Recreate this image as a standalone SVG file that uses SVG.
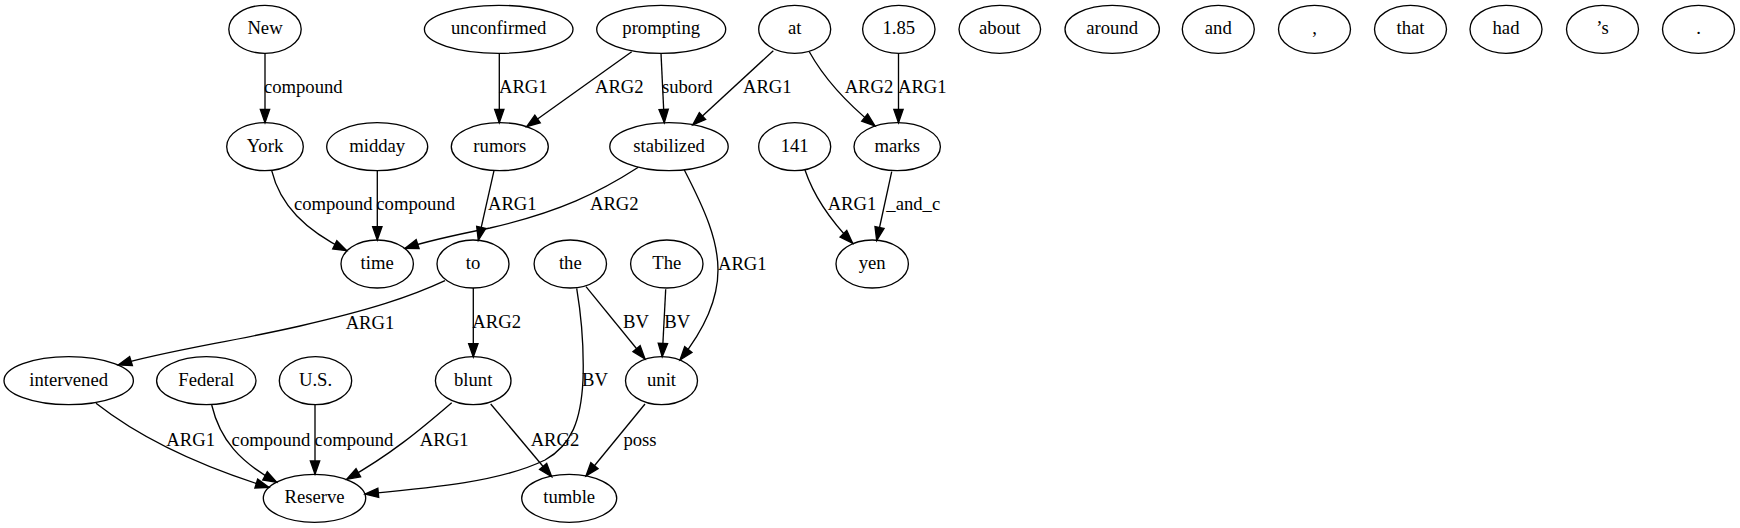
<svg xmlns="http://www.w3.org/2000/svg" width="1740" height="528" viewBox="0 0 1740 528">
<style>
.n ellipse{fill:none;stroke:#000;stroke-width:1.33}
text{font-family:"Liberation Serif","Times New Roman",serif;font-size:18.67px;fill:#000;text-anchor:middle}
.e path{fill:none;stroke:#000;stroke-width:1.33;marker-end:url(#ah)}
</style>
<defs>
<marker id="ah" markerUnits="userSpaceOnUse" markerWidth="16" markerHeight="12" refX="13.33" refY="0" orient="auto" overflow="visible">
<path d="M0,-4.67 L13.33,0 L0,4.67 Z" fill="#000" stroke="#000" stroke-width="1.33"/>
</marker>
</defs>
<rect width="1740" height="528" fill="#fff"/>
<g id="edges" class="e">
<path d="M265,53.3 L265,122.7"/>
<path d="M499.3,53.3 L499.3,122.7"/>
<path d="M631.7,51.7 L526.7,126.7"/>
<path d="M661,53.3 L664.3,122.7"/>
<path d="M773.3,50.7 L692.7,125"/>
<path d="M809.3,51.7 C825,80 848,104 875,126"/>
<path d="M898.5,53.3 L898.5,122.7"/>
<path d="M271.7,170.7 C280,205 305,230 346.7,250.7"/>
<path d="M377.3,170.7 L377.3,240"/>
<path d="M494,170.7 L478.3,240.3"/>
<path d="M638.3,167.3 C600,192 560,212 490,228 C460,234 430,240 405,248.3"/>
<path d="M684.3,170 C705,210 718,240 718,270 C718,305 700,335 680,360"/>
<path d="M805,170 C815,200 835,225 852.7,243.3"/>
<path d="M891.7,171.7 L876.7,240.5"/>
<path d="M445,280.7 C410,297 370,310 300,326 C230,342 160,352 118.3,365"/>
<path d="M473.3,288 L473.3,357"/>
<path d="M586,286.7 L645,359"/>
<path d="M665.7,289.3 L662.2,356.7"/>
<path d="M576.7,288.3 C582,320 584,350 583,380 C581,420 572,445 545,460 C500,482 430,488 365,494"/>
<path d="M96,403.3 C130,430 180,460 269,487.5"/>
<path d="M211.7,405 C220,440 240,462 276.7,482.3"/>
<path d="M315,405 L315,474.3"/>
<path d="M451.7,402.7 C420,430 390,455 346.7,479.3"/>
<path d="M490.7,404 L551.7,476.7"/>
<path d="M645,404 L586,476"/>
<text x="303.3" y="93.3">compound</text>
<text x="523.3" y="93.3">ARG1</text>
<text x="619.3" y="93.3">ARG2</text>
<text x="687.3" y="93.3">subord</text>
<text x="767.3" y="93.3">ARG1</text>
<text x="869" y="93.3">ARG2</text>
<text x="922.3" y="93.3">ARG1</text>
<text x="333.3" y="210">compound</text>
<text x="415.7" y="210">compound</text>
<text x="512.3" y="210">ARG1</text>
<text x="614.3" y="210">ARG2</text>
<text x="852" y="210">ARG1</text>
<text x="913.3" y="210">_and_c</text>
<text x="742.3" y="270">ARG1</text>
<text x="370" y="328.7">ARG1</text>
<text x="496.7" y="327.7">ARG2</text>
<text x="636" y="327.7">BV</text>
<text x="677.3" y="327.7">BV</text>
<text x="595" y="386">BV</text>
<text x="190.7" y="446">ARG1</text>
<text x="271" y="446">compound</text>
<text x="354" y="446">compound</text>
<text x="444.2" y="446">ARG1</text>
<text x="555" y="446">ARG2</text>
<text x="640" y="446">poss</text>
</g>
<g id="n-New" class="n"><ellipse cx="265" cy="29.3" rx="36.2" ry="24"/><text x="265" y="34.3">New</text></g>
<g id="n-unconfirmed" class="n"><ellipse cx="498.7" cy="29.3" rx="74.3" ry="24"/><text x="498.7" y="34.3">unconfirmed</text></g>
<g id="n-prompting" class="n"><ellipse cx="661.2" cy="29.3" rx="64.5" ry="24"/><text x="661.2" y="34.3">prompting</text></g>
<g id="n-at" class="n"><ellipse cx="794.7" cy="29.3" rx="36" ry="24"/><text x="794.7" y="34.3">at</text></g>
<g id="n-1.85" class="n"><ellipse cx="898.8" cy="29.3" rx="36.2" ry="24"/><text x="898.8" y="34.3">1.85</text></g>
<g id="n-about" class="n"><ellipse cx="999.8" cy="29.3" rx="40.8" ry="24"/><text x="999.8" y="34.3">about</text></g>
<g id="n-around" class="n"><ellipse cx="1112.2" cy="29.3" rx="47.2" ry="24"/><text x="1112.2" y="34.3">around</text></g>
<g id="n-and" class="n"><ellipse cx="1218.3" cy="29.3" rx="36" ry="24"/><text x="1218.3" y="34.3">and</text></g>
<g id="n-comma" class="n"><ellipse cx="1314.5" cy="29.3" rx="36" ry="24"/><text x="1314.5" y="34.3">,</text></g>
<g id="n-that" class="n"><ellipse cx="1410.5" cy="29.3" rx="36" ry="24"/><text x="1410.5" y="34.3">that</text></g>
<g id="n-had" class="n"><ellipse cx="1506" cy="29.3" rx="36" ry="24"/><text x="1506" y="34.3">had</text></g>
<g id="n-s" class="n"><ellipse cx="1602.5" cy="29.3" rx="36" ry="24"/><text x="1602.5" y="34.3">’s</text></g>
<g id="n-period" class="n"><ellipse cx="1698.5" cy="29.3" rx="36" ry="24"/><text x="1698.5" y="34.3">.</text></g>
<g id="n-York" class="n"><ellipse cx="265" cy="146.7" rx="38.3" ry="24"/><text x="265" y="151.7">York</text></g>
<g id="n-midday" class="n"><ellipse cx="377.2" cy="146.7" rx="50.5" ry="24"/><text x="377.2" y="151.7">midday</text></g>
<g id="n-rumors" class="n"><ellipse cx="499.8" cy="146.7" rx="48.5" ry="24"/><text x="499.8" y="151.7">rumors</text></g>
<g id="n-stabilized" class="n"><ellipse cx="669" cy="146.7" rx="59.2" ry="24"/><text x="669" y="151.7">stabilized</text></g>
<g id="n-141" class="n"><ellipse cx="794.7" cy="146.7" rx="36" ry="24"/><text x="794.7" y="151.7">141</text></g>
<g id="n-marks" class="n"><ellipse cx="897.2" cy="146.7" rx="43.2" ry="24"/><text x="897.2" y="151.7">marks</text></g>
<g id="n-time" class="n"><ellipse cx="377.2" cy="264" rx="36.2" ry="24"/><text x="377.2" y="269">time</text></g>
<g id="n-to" class="n"><ellipse cx="473" cy="264" rx="36" ry="24"/><text x="473" y="269">to</text></g>
<g id="n-the" class="n"><ellipse cx="570.3" cy="264" rx="36.2" ry="24"/><text x="570.3" y="269">the</text></g>
<g id="n-The" class="n"><ellipse cx="666.8" cy="264" rx="36.2" ry="24"/><text x="666.8" y="269">The</text></g>
<g id="n-yen" class="n"><ellipse cx="872.2" cy="264" rx="36.2" ry="24"/><text x="872.2" y="269">yen</text></g>
<g id="n-intervened" class="n"><ellipse cx="68.7" cy="380.7" rx="64.7" ry="24"/><text x="68.7" y="385.7">intervened</text></g>
<g id="n-Federal" class="n"><ellipse cx="206.3" cy="380.7" rx="49.7" ry="24"/><text x="206.3" y="385.7">Federal</text></g>
<g id="n-US" class="n"><ellipse cx="315.5" cy="380.7" rx="36.2" ry="24"/><text x="315.5" y="385.7">U.S.</text></g>
<g id="n-blunt" class="n"><ellipse cx="473.2" cy="380.7" rx="37.8" ry="24"/><text x="473.2" y="385.7">blunt</text></g>
<g id="n-unit" class="n"><ellipse cx="661.5" cy="380.7" rx="36" ry="24"/><text x="661.5" y="385.7">unit</text></g>
<g id="n-Reserve" class="n"><ellipse cx="314.5" cy="498.3" rx="51.2" ry="24"/><text x="314.5" y="503.3">Reserve</text></g>
<g id="n-tumble" class="n"><ellipse cx="569.2" cy="498.3" rx="47.5" ry="24"/><text x="569.2" y="503.3">tumble</text></g>
</svg>
